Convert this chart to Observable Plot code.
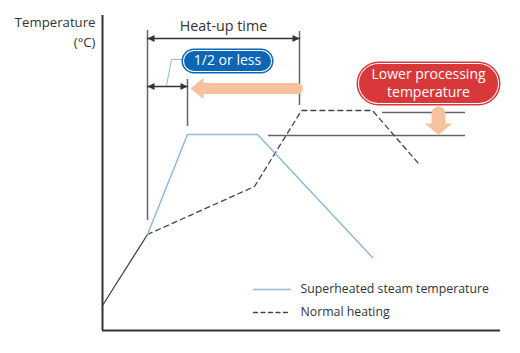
<!DOCTYPE html>
<html><head><meta charset="utf-8">
<script src="https://cdn.jsdelivr.net/npm/d3@7"></script>
<script src="https://cdn.jsdelivr.net/npm/@observablehq/plot@0.6"></script>
<style>body{margin:0;background:#fff}</style>
</head><body><div id="chart"></div>
<script>
// ---- data (time units / temperature units) ----
const preheatTime = [0, 45];
const preheatTemp = [25, 96];
const steamTime = [45, 85, 155, 270];
const steamTemp = [96, 196, 196, 73];
const normalTime = [45, 152, 199, 270, 316];
const normalTemp = [96, 144, 220, 220, 167];
const markerTimes = [45, 85, 197];           // vertical guide lines
const markerFrom = [110, 204, 225];
const markerTo = [300, 251, 299];
const heatUpRange = [45, 197];               // heat-up time
const halfRange = [45, 85];                  // 1/2 or less
const steamPeakTemp = 196;
const normalPeakTemp = 220;
const labels = {
  yTitle: "Temperature", yUnit: "(°C)", heatUp: "Heat-up time", half: "1/2 or less",
  lower1: "Lower processing", lower2: "temperature",
  legendSteam: "Superheated steam temperature", legendNormal: "Normal heating"
};

// ---- styles ----
const FONT = "Open Sans, sans-serif";
const BLUE_LINE = "#8fb9dd", DARK = "#333", GRAY = "#666", ORANGE = "#f6c29d";
const PILL_BLUE = "#0b66b6", PILL_RED = "#d8383a";

function head(len, hw) {
  return {draw(ctx) { ctx.moveTo(0, 0); ctx.lineTo(-len, -hw); ctx.lineTo(-len, hw); ctx.closePath(); }};
}
const pts = (xs, ys) => xs.map((x, i) => ({x, y: ys[i]}));
function pill(cx, cy, w, h, color) {
  const seg = [{x: cx - (w - h) / 2, y: cy}, {x: cx + (w - h) / 2, y: cy}];
  return [
    Plot.line(seg, {x: "x", y: "y", stroke: color, strokeWidth: h, strokeLinecap: "round"}),
    Plot.line(seg, {x: "x", y: "y", stroke: "#fff", strokeWidth: h - 3, strokeLinecap: "round"}),
    Plot.line(seg, {x: "x", y: "y", stroke: color, strokeWidth: h - 5, strokeLinecap: "round"})
  ];
}

const heatY = 292, halfY = 244;
const markers = markerTimes.map((x, i) => ({x, y1: markerFrom[i], y2: markerTo[i]}));

const chart = Plot.plot({
  width: 520, height: 353,
  marginLeft: 102, marginRight: 20, marginTop: 15, marginBottom: 23,
  x: {domain: [0, 398], axis: null},
  y: {domain: [0, 315], axis: null},
  style: {fontFamily: FONT, background: "#fff"},
  marks: [
    // axes
    Plot.ruleX([0], {stroke: DARK, strokeWidth: 2}),
    Plot.ruleY([0], {stroke: DARK, strokeWidth: 2}),
    Plot.text([labels.yTitle], {x: -7, y: 308, text: d => d, textAnchor: "end", fontSize: 13.2, fill: DARK}),
    Plot.text([labels.yUnit], {x: -7, y: 288, text: d => d, textAnchor: "end", fontSize: 13.2, fill: DARK}),
    // guide verticals
    Plot.ruleX(markers, {x: "x", y1: "y1", y2: "y2", stroke: GRAY, strokeWidth: 1.5}),
    // temperature level lines
    Plot.ruleY([normalPeakTemp - 2], {x1: 280, x2: 363, stroke: GRAY, strokeWidth: 1.5}),
    Plot.ruleY([steamPeakTemp - 1], {x1: 166, x2: 363, stroke: GRAY, strokeWidth: 1.5}),
    // curves
    Plot.line(pts(preheatTime, preheatTemp), {x: "x", y: "y", stroke: "#444", strokeWidth: 1.3}),
    Plot.line(pts(normalTime, normalTemp), {x: "x", y: "y", stroke: "#444", strokeWidth: 1.3, strokeDasharray: "5,4"}),
    Plot.line(pts(steamTime, steamTemp), {x: "x", y: "y", stroke: BLUE_LINE, strokeWidth: 1.5}),
    // heat-up arrow
    Plot.line(pts(heatUpRange, [heatY, heatY]), {x: "x", y: "y", stroke: DARK, strokeWidth: 1.5}),
    Plot.dot([{x: heatUpRange[0], r: 180}, {x: heatUpRange[1], r: 0}], {x: "x", y: heatY, rotate: "r", symbol: head(7, 3.5), fill: DARK, stroke: "none"}),
    Plot.text([labels.heatUp], {x: (heatUpRange[0] + heatUpRange[1]) / 2, y: 304, text: d => d, fontSize: 14.3, fill: DARK}),
    // 1/2 arrow
    Plot.line(pts(halfRange, [halfY, halfY]), {x: "x", y: "y", stroke: DARK, strokeWidth: 1.5}),
    Plot.dot([{x: halfRange[0], r: 180}, {x: halfRange[1], r: 0}], {x: "x", y: halfY, rotate: "r", symbol: head(7, 3.5), fill: DARK, stroke: "none"}),
    Plot.line([{x: 64, y: 245}, {x: 69, y: 271}, {x: 80, y: 271}], {x: "x", y: "y", stroke: BLUE_LINE, strokeWidth: 1}),
    ...pill(125, 269.5, 92, 25, PILL_BLUE),
    Plot.text([labels.half], {x: 125, y: 269.5, text: d => d, fontSize: 14, fill: "#fff"}),
    // orange shortening arrow
    Plot.line([{x: 100, y: 242}, {x: 195, y: 242}], {x: "x", y: "y", stroke: ORANGE, strokeWidth: 11}),
    Plot.dot([{x: 88}], {x: "x", y: 242, rotate: 180, symbol: head(13, 10.5), fill: ORANGE, stroke: "none"}),
    // lower processing pill
    ...pill(326, 247, 144, 44, PILL_RED),
    Plot.text([labels.lower1], {x: 326, y: 256, text: d => d, fontSize: 14, fill: "#fff"}),
    Plot.text([labels.lower2], {x: 326, y: 238, text: d => d, fontSize: 14, fill: "#fff"}),
    // orange down arrow
    Plot.line([{x: 336, y: 217}, {x: 336, y: 205}], {x: "x", y: "y", stroke: ORANGE, strokeWidth: 14}),
    Plot.dot([{x: 336}], {x: "x", y: steamPeakTemp, rotate: 90, symbol: head(11, 14), fill: ORANGE, stroke: "none"}),
    // legend
    Plot.line([{x: 151, y: 41}, {x: 188, y: 41}], {x: "x", y: "y", stroke: BLUE_LINE, strokeWidth: 1.3}),
    Plot.line([{x: 151, y: 18}, {x: 188, y: 18}], {x: "x", y: "y", stroke: "#444", strokeWidth: 1.3, strokeDasharray: "4,3.5"}),
    Plot.text([labels.legendSteam], {x: 198, y: 41, text: d => d, textAnchor: "start", fontSize: 12.3, fill: DARK}),
    Plot.text([labels.legendNormal], {x: 198, y: 18, text: d => d, textAnchor: "start", fontSize: 12.3, fill: DARK})
  ]
});
document.getElementById("chart").appendChild(chart);
</script>
</body></html>
